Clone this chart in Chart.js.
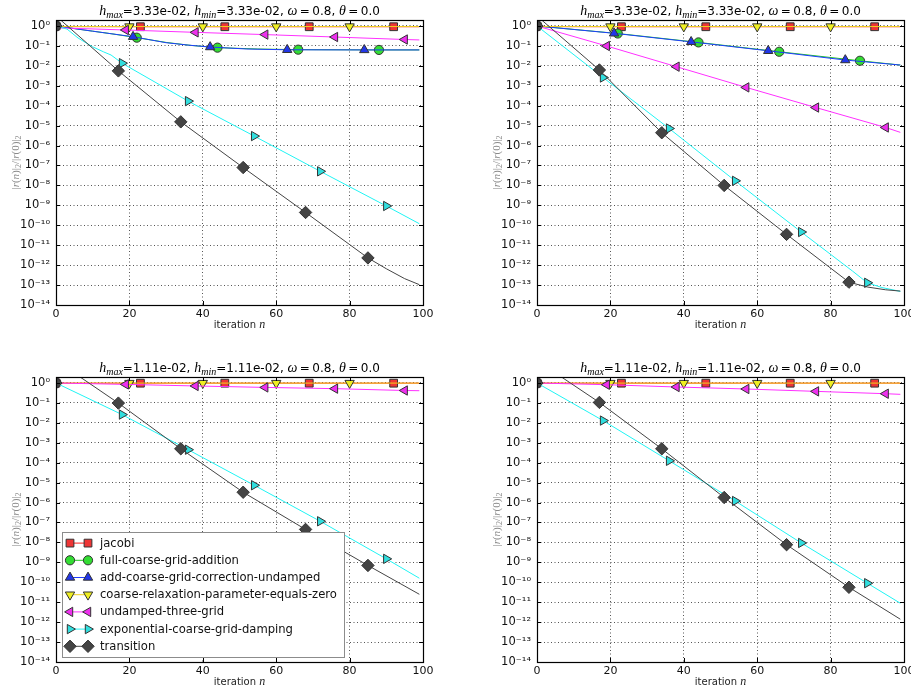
<!DOCTYPE html>
<html><head><meta charset="utf-8">
<script src="https://cdn.jsdelivr.net/npm/chart.js@4.4.1/dist/chart.umd.min.js"></script>
<style>
html,body{margin:0;padding:0;background:#fff;overflow:hidden;width:911px;height:692px;position:relative;}
canvas{position:absolute;}
</style></head><body>
<canvas id="c0" width="460" height="345" style="left:0px;top:0px"></canvas>
<canvas id="c1" width="460" height="345" style="left:481px;top:0px"></canvas>
<canvas id="c2" width="460" height="345" style="left:0px;top:357px"></canvas>
<canvas id="c3" width="460" height="345" style="left:481px;top:357px"></canvas>
<script>
// ---------------- data ----------------
const SERIES = ['jacobi', 'full-coarse-grid-addition', 'add-coarse-grid-correction-undamped',
  'coarse-relaxation-parameter-equals-zero', 'undamped-three-grid',
  'exponential-coarse-grid-damping', 'transition'];
const MARK_EVERY = [23, 22, 21, 20, 19, 18, 17];

const N_JAC = [0, 1, 23, 46, 69, 92, 99];
const N_FCG = [0, 5, 10, 15, 22, 30, 37, 44, 55, 66, 88, 99];
const N_ACG = [0, 5, 10, 15, 21, 30, 36, 42, 52, 63, 84, 99];
const N_CRP = [0, 1, 20, 40, 60, 80, 99];
const N_UTG = [0, 1, 19, 38, 57, 76, 95, 99];
const N_ECD = [0, 3, 6, 10, 13, 15, 18, 36, 54, 72, 86, 90, 94, 99];
const N_TRN = [0, 1, 17, 34, 51, 68, 85, 90, 95, 99];

// top-left panel (h = 3.33e-02)
const TL_JAC = [1, 0.93, 0.92, 0.92, 0.92, 0.92, 0.92];
const TL_FCG = [1, 0.74, 0.55, 0.41, 0.26, 0.15, 0.105, 0.082, 0.07, 0.065, 0.063, 0.063];
const TL_ACG = [1, 0.74, 0.55, 0.41, 0.29, 0.145, 0.11, 0.088, 0.07, 0.064, 0.063, 0.063];
const TL_CRP = [1, 0.95, 0.94, 0.94, 0.94, 0.94, 0.94];
const TL_UTG = [1, 0.8, 0.63, 0.48, 0.37, 0.28, 0.21, 0.2];
const TL_ECD = [1, 0.7, 0.25, 0.09, 0.05, 0.035, 0.0136, 1.7e-4, 3e-6, 5.1e-8, null, 9.3e-10, null, 1.2e-10];
const TL_TRN = [1, 2.2, 5.6e-3, 1.55e-5, 7.9e-8, 4.4e-10, 2.3e-12, 6.6e-13, 2.1e-13, 1.05e-13];

// top-right panel (h = 3.33e-02)
const TR_JAC = [1, 0.93, 0.92, 0.92, 0.92, 0.92, 0.92];
const TR_FCG = [1, null, null, null, 0.42, null, null, 0.15, null, 0.051, 0.018, 0.011];
const TR_ACG = [1, null, null, null, 0.43, null, null, 0.16, null, 0.057, 0.0196, 0.011];
const TR_CRP = [1, 0.95, 0.94, 0.94, 0.94, 0.94, 0.94];
const TR_UTG = [1, null, 0.099, 9.1e-3, 8.3e-4, 8.1e-5, 8.1e-6, 4.6e-6];
const TR_ECD = [1, null, null, null, null, null, 2.6e-3, 7.2e-6, 1.7e-8, 4.6e-11, 5e-13, 1.3e-13, 7.5e-14, 4.8e-14];
const TR_TRN = [1, 2.2, 6.2e-3, 4.4e-6, 1e-8, 3.5e-11, 1.4e-13, 8e-14, 5.8e-14, 5e-14];

// bottom-left panel (h = 1.11e-02)
const BL_JAC = [1, 0.98, 0.98, 0.98, 0.98, 0.98, 0.98];
const BL_FCG = [];
const BL_ACG = [];
const BL_CRP = [1, 0.99, 0.99, 0.99, 0.99, 0.99, 0.99];
const BL_UTG = [1, null, 0.85, 0.71, 0.6, 0.52, 0.42, 0.41];
const BL_ECD = [1, null, null, null, null, null, 0.026, 4.5e-4, 7.4e-6, 1.15e-7, null, 1.5e-9, null, 1.6e-10];
const BL_TRN = [1, 10, 0.098, 5e-4, 3.3e-6, 4.5e-8, 7e-10, null, null, 2.5e-11];

// bottom-right panel (h = 1.11e-02)
const BR_JAC = [1, 0.98, 0.98, 0.98, 0.98, 0.98, 0.98];
const BR_FCG = [];
const BR_ACG = [];
const BR_CRP = [1, 0.99, 0.99, 0.99, 0.99, 0.99, 0.99];
const BR_UTG = [1, null, 0.82, 0.63, 0.5, 0.38, 0.29, 0.27];
const BR_ECD = [1, null, null, null, null, null, 0.013, 1.25e-4, 1.2e-6, 9.4e-9, null, 9e-11, null, 8.9e-12];
const BR_TRN = [1, 10, 0.106, 5e-4, 1.8e-6, 7.7e-9, 5.6e-11, null, null, 1.4e-12];

const PANEL_HMAX = ['3.33e-02', '3.33e-02', '1.11e-02', '1.11e-02'];
const PANEL_HMIN = ['3.33e-02', '3.33e-02', '1.11e-02', '1.11e-02'];
const OMEGA = '0.8';
const THETA = '0.0';
const X_TICKS = [0, 20, 40, 60, 80, 100];
const Y_TICK_EXP = [0, -1, -2, -3, -4, -5, -6, -7, -8, -9, -10, -11, -12, -13, -14];
const Y_TICK_LABELS = ['10⁰', '10⁻¹', '10⁻²', '10⁻³', '10⁻⁴', '10⁻⁵', '10⁻⁶', '10⁻⁷',
  '10⁻⁸', '10⁻⁹', '10⁻¹⁰', '10⁻¹¹', '10⁻¹²', '10⁻¹³', '10⁻¹⁴'];
const X_LABEL = 'iteration ';
const X_LABEL_VAR = 'n';

// ---------------- styles ----------------
const GRIDS = [N_JAC, N_FCG, N_ACG, N_CRP, N_UTG, N_ECD, N_TRN];
const PANELS = [
  [TL_JAC, TL_FCG, TL_ACG, TL_CRP, TL_UTG, TL_ECD, TL_TRN],
  [TR_JAC, TR_FCG, TR_ACG, TR_CRP, TR_UTG, TR_ECD, TR_TRN],
  [BL_JAC, BL_FCG, BL_ACG, BL_CRP, BL_UTG, BL_ECD, BL_TRN],
  [BR_JAC, BR_FCG, BR_ACG, BR_CRP, BR_UTG, BR_ECD, BR_TRN]
];
const STYLE = [
  {line: '#ff1a1a', face: '#ee3535', shape: 'rect', rot: 0, r: 5.5},
  {line: '#1ec81e', face: '#33dd33', shape: 'circle', rot: 0, r: 4.6},
  {line: '#1f3cff', face: '#2236e8', shape: 'triangle', rot: 0, r: 5.4},
  {line: '#f0d020', face: '#eeee22', shape: 'triangle', rot: 180, r: 5.4},
  {line: '#ff30ff', face: '#ee30ee', shape: 'triangle', rot: -90, r: 5.4},
  {line: '#20f4f4', face: '#30dede', shape: 'triangle', rot: 90, r: 5.4},
  {line: '#444444', face: '#444444', shape: 'rectRot', rot: 0, r: 6.2}
];
const MATH = '"Liberation Serif", "DejaVu Serif", serif';
const SANS = '"DejaVu Sans", sans-serif';
Chart.defaults.font.family = SANS;

function drawRich(ctx, segs, cx, baseline) {
  let total = 0;
  segs.forEach(s => { ctx.font = s.f; s.w = ctx.measureText(s.t).width; total += s.w; });
  let x = cx - total / 2;
  segs.forEach(s => {
    ctx.font = s.f; ctx.fillStyle = s.c || '#000';
    ctx.fillText(s.t, x, baseline + (s.dy || 0));
    x += s.w;
  });
}

const decor = {
  id: 'decor',
  afterDraw(chart, args, opts) {
    const ctx = chart.ctx, a = chart.chartArea, sx = chart.scales.x, sy = chart.scales.y;
    ctx.save();
    ctx.strokeStyle = '#000'; ctx.lineWidth = 1;
    ctx.beginPath();
    sy.ticks.forEach(t => {
      const y = Math.round(sy.getPixelForValue(t.value)) + 0.5;
      ctx.moveTo(a.left, y); ctx.lineTo(a.left + 4, y);
      ctx.moveTo(a.right, y); ctx.lineTo(a.right - 4, y);
    });
    sx.ticks.forEach(t => {
      const x = Math.round(sx.getPixelForValue(t.value)) + 0.5;
      ctx.moveTo(x, a.bottom); ctx.lineTo(x, a.bottom - 4);
      ctx.moveTo(x, a.top); ctx.lineTo(x, a.top + 4);
    });
    ctx.stroke();
    ctx.lineWidth = 1.2;
    ctx.strokeRect(Math.round(a.left) + 0.5, Math.round(a.top) + 0.5,
      Math.round(a.right - a.left), Math.round(a.bottom - a.top));
    const cx = (a.left + a.right) / 2;
    ctx.textBaseline = 'alphabetic';
    // title
    drawRich(ctx, [
      {t: 'h', f: 'italic 14px ' + MATH},
      {t: 'max', f: 'italic 10px ' + MATH, dy: 3},
      {t: '=' + opts.hmax + ', ', f: '12px ' + SANS},
      {t: 'h', f: 'italic 14px ' + MATH},
      {t: 'min', f: 'italic 10px ' + MATH, dy: 3},
      {t: '=' + opts.hmin + ', ', f: '12px ' + SANS},
      {t: 'ω', f: 'italic 14px ' + MATH},
      {t: '\u2009=\u2009', f: '12px ' + SANS},
      {t: OMEGA + ', ', f: '12px ' + SANS},
      {t: 'θ', f: 'italic 14px ' + MATH},
      {t: '\u2009=\u2009', f: '12px ' + SANS},
      {t: THETA, f: '12px ' + SANS}
    ], cx, a.top - 5);
    // x label
    drawRich(ctx, [
      {t: X_LABEL, f: '10px ' + SANS, c: '#222'},
      {t: X_LABEL_VAR, f: 'italic 12px ' + MATH, c: '#222'}
    ], cx, a.bottom + 23);
    // y label
    ctx.save();
    ctx.translate(a.left - 41, (a.top + a.bottom) / 2);
    ctx.rotate(-Math.PI / 2);
    const g = '#8a8a8a';
    drawRich(ctx, [
      {t: '|', f: '11px ' + MATH, c: g},
      {t: 'r', f: 'italic 11px ' + MATH, c: g},
      {t: '(', f: '11px ' + MATH, c: g},
      {t: 'n', f: 'italic 11px ' + MATH, c: g},
      {t: ')|', f: '11px ' + MATH, c: g},
      {t: '2', f: '8px ' + MATH, c: g, dy: 2},
      {t: '/|', f: '11px ' + MATH, c: g},
      {t: 'r', f: 'italic 11px ' + MATH, c: g},
      {t: '(0)|', f: '11px ' + MATH, c: g},
      {t: '2', f: '8px ' + MATH, c: g, dy: 2}
    ], 0, 4);
    ctx.restore();
    // legend
    if (opts.legend) {
      const x0 = Math.round(a.left + 6) + 0.5, w = 282;
      const h = 125, y0 = Math.round(a.bottom - 5 - h) + 0.5;
      ctx.fillStyle = '#fff';
      ctx.fillRect(x0, y0, w, h);
      ctx.strokeStyle = '#8c8c8c'; ctx.lineWidth = 1;
      ctx.strokeRect(x0, y0, w, h);
      ctx.textBaseline = 'middle';
      ctx.font = '11.6px ' + SANS;
      SERIES.forEach((lab, i) => {
        const st = STYLE[i];
        const y = y0 + 10.6 + i * 17.2;
        const m1 = x0 + 7.5, m2 = x0 + 25.5;
        ctx.strokeStyle = st.line; ctx.lineWidth = 1;
        ctx.beginPath(); ctx.moveTo(m1, y); ctx.lineTo(m2, y); ctx.stroke();
        [m1, m2].forEach(mx => {
          ctx.fillStyle = st.face; ctx.strokeStyle = '#333'; ctx.lineWidth = 1;
          Chart.helpers.drawPoint(ctx, {pointStyle: st.shape, rotation: st.rot, radius: st.r, borderWidth: 1}, mx, y);
        });
        ctx.fillStyle = '#111';
        ctx.font = '11.6px ' + SANS;
        ctx.fillText(lab, x0 + 37.5, y + 0.5);
      });
    }
    ctx.restore();
  }
};

function buildPanel(idx) {
  const values = PANELS[idx];
  const datasets = SERIES.map((label, i) => {
    const st = STYLE[i], grid = GRIDS[i], v = values[i], k = MARK_EVERY[i];
    const data = v.length ? grid.map((n, j) => ({x: n, y: v[j]})) : [];
    return {
      label, data,
      borderColor: st.line, backgroundColor: st.face, borderWidth: 1,
      pointBackgroundColor: st.face, pointBorderColor: '#333', pointBorderWidth: 1,
      pointStyle: st.shape, pointRotation: st.rot,
      pointRadius: c => (c.raw && c.raw.x % k === 0) ? st.r : 0,
      pointHoverRadius: c => (c.raw && c.raw.x % k === 0) ? st.r : 0,
      spanGaps: true, tension: 0, clip: 0, order: SERIES.length - i
    };
  });
  new Chart(document.getElementById('c' + idx), {
    type: 'line',
    data: {datasets},
    options: {
      responsive: false, animation: false, events: [],
      layout: {padding: {left: 0, top: 20, right: 37, bottom: 20}},
      plugins: {
        legend: {display: false}, tooltip: {enabled: false}, title: {display: false},
        decor: {hmax: PANEL_HMAX[idx], hmin: PANEL_HMIN[idx], legend: idx === 2}
      },
      scales: {
        x: {
          type: 'linear', min: 0, max: 100,
          afterBuildTicks: s => { s.ticks = X_TICKS.map(v => ({value: v})); },
          afterFit: s => { s.height = 20; },
          grid: {color: '#555', lineWidth: 1, drawTicks: false},
          border: {display: false, dash: [1, 2.5]},
          ticks: {padding: 3, color: '#111', font: {size: 11}, maxRotation: 0, autoSkip: false,
            callback: v => String(v)}
        },
        y: {
          type: 'logarithmic', min: 1e-14, max: 2,
          afterBuildTicks: s => { s.ticks = Y_TICK_EXP.map(e => ({value: Math.pow(10, e)})); },
          afterFit: s => { s.width = 56; },
          grid: {color: '#555', lineWidth: 1, drawTicks: false},
          border: {display: false, dash: [1, 2.5]},
          ticks: {padding: 6, color: '#111', font: {size: 11.5}, autoSkip: false,
            callback: v => Y_TICK_LABELS[Y_TICK_EXP.indexOf(Math.round(Math.log10(v)))]}
        }
      }
    },
    plugins: [decor]
  });
}
[0, 1, 2, 3].forEach(buildPanel);
</script>
</body></html>
